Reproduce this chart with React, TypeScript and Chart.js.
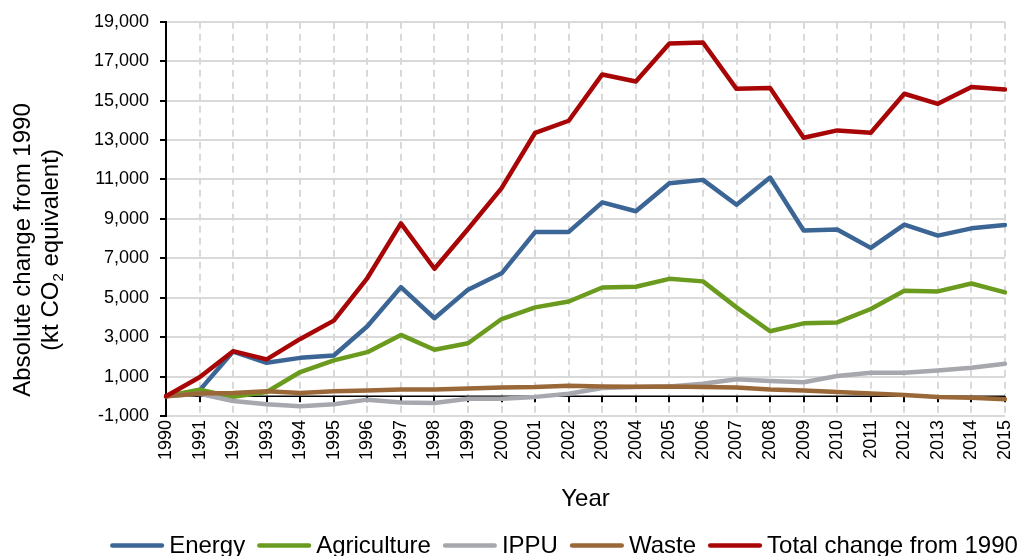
import React, { useEffect, useRef } from "react";
import { Chart, registerables } from "chart.js";

Chart.register(...registerables);

const years = [
  "1990", "1991", "1992", "1993", "1994", "1995", "1996", "1997", "1998", "1999",
  "2000", "2001", "2002", "2003", "2004", "2005", "2006", "2007", "2008", "2009",
  "2010", "2011", "2012", "2013", "2014", "2015",
];

const energy = [0, 300, 2270, 1700, 1950, 2070, 3550, 5540, 3960, 5410, 6240, 8330, 8340, 9840, 9390, 10810, 10980, 9720, 11100, 8410, 8460, 7530, 8710, 8150, 8520, 8690];
const agriculture = [0, 340, -30, 220, 1230, 1820, 2240, 3115, 2360, 2690, 3920, 4510, 4810, 5520, 5560, 5960, 5830, 4510, 3300, 3700, 3750, 4430, 5350, 5320, 5720, 5270];
const ippu = [0, 130, -240, -400, -500, -400, -170, -320, -340, -120, -120, -30, 130, 420, 470, 500, 640, 860, 770, 710, 1030, 1200, 1200, 1310, 1450, 1650];
const waste = [0, 140, 170, 250, 170, 250, 300, 340, 350, 390, 440, 470, 540, 500, 490, 500, 470, 440, 350, 300, 220, 140, 70, -30, -70, -150];
const total = [0, 970, 2290, 1870, 2910, 3840, 6000, 8770, 6470, 8490, 10560, 13370, 13980, 16330, 15970, 17900, 17950, 15600, 15640, 13120, 13490, 13370, 15350, 14840, 15690, 15560];

const seriesNames = ["Energy", "Agriculture", "IPPU", "Waste", "Total change from 1990"];
const seriesColors = ["#3B6595", "#6B9B1E", "#A6A8AE", "#9A6838", "#A80606"];

const yMin = -1000;
const yMax = 19000;

const FONT = "'Liberation Sans', Arial, sans-serif";

const zeroAxisPlugin = {
  id: "zeroAxis",
  beforeDatasetsDraw(chart: any) {
    const { ctx, scales } = chart;
    const xs = scales.x;
    const ys = scales.y;
    const y0 = ys.getPixelForValue(0);
    ctx.save();
    ctx.strokeStyle = "#000";
    ctx.lineWidth = 1.5;
    ctx.beginPath();
    ctx.moveTo(chart.chartArea.left, y0);
    ctx.lineTo(chart.chartArea.right, y0);
    ctx.stroke();
    ctx.lineWidth = 2;
    for (let i = 0; i < years.length; i++) {
      const x = Math.round(xs.getPixelForValue(i));
      ctx.beginPath();
      ctx.moveTo(x, y0);
      ctx.lineTo(x, y0 + 6);
      ctx.stroke();
    }
    ctx.restore();
  },
};

const textPlugin = {
  id: "textDecor",
  afterDraw(chart: any) {
    const { ctx } = chart;
    ctx.save();
    ctx.fillStyle = "#000";
    // Y axis title (rotated, two lines)
    const cy = 250;
    ctx.font = `24px ${FONT}`;
    ctx.textBaseline = "alphabetic";
    ctx.save();
    ctx.translate(29.5, cy);
    ctx.rotate(-Math.PI / 2);
    ctx.textAlign = "center";
    ctx.fillText("Absolute change from 1990", 0, 0);
    ctx.restore();

    const seg1 = "(kt CO";
    const seg2 = "2";
    const seg3 = " equivalent)";
    ctx.font = `24px ${FONT}`;
    const w1 = ctx.measureText(seg1).width;
    const w3 = ctx.measureText(seg3).width;
    ctx.font = `15px ${FONT}`;
    const w2 = ctx.measureText(seg2).width;
    const tw = w1 + w2 + w3;
    ctx.save();
    ctx.translate(57.5, cy);
    ctx.rotate(-Math.PI / 2);
    ctx.textAlign = "left";
    ctx.font = `24px ${FONT}`;
    ctx.fillText(seg1, -tw / 2, 0);
    ctx.font = `15px ${FONT}`;
    ctx.fillText(seg2, -tw / 2 + w1, 5);
    ctx.font = `24px ${FONT}`;
    ctx.fillText(seg3, -tw / 2 + w1 + w2, 0);
    ctx.restore();

    // Legend
    const lineLen = 54;
    const gapText = 5;
    const gapItem = 12;
    ctx.font = `24px ${FONT}`;
    const widths = seriesNames.map((n) => ctx.measureText(n).width);
    let totalW = 0;
    widths.forEach((w, i) => {
      totalW += lineLen + gapText + w + (i < widths.length - 1 ? gapItem : 0);
    });
    let x = 564 - totalW / 2;
    const ly = 545.5;
    chart.data.datasets.forEach((ds: any, i: number) => {
      ctx.strokeStyle = ds.borderColor;
      ctx.lineWidth = 4.5;
      ctx.lineCap = "round";
      ctx.beginPath();
      ctx.moveTo(x + 2.2, ly);
      ctx.lineTo(x + lineLen - 2.2, ly);
      ctx.stroke();
      ctx.fillStyle = "#000";
      ctx.textAlign = "left";
      ctx.textBaseline = "alphabetic";
      ctx.fillText(ds.label, x + lineLen + gapText, 552.5);
      x += lineLen + gapText + widths[i] + gapItem;
    });
    ctx.restore();
  },
};

export default function App() {
  const canvasRef = useRef<HTMLCanvasElement | null>(null);

  useEffect(() => {
    if (!canvasRef.current) return;
    const seriesData = [energy, agriculture, ippu, waste, total];
    const chart = new Chart(canvasRef.current, {
      type: "line",
      data: {
        labels: years,
        datasets: seriesData.map((d, i) => ({
          label: seriesNames[i],
          data: d,
          borderColor: seriesColors[i],
          backgroundColor: seriesColors[i],
          borderWidth: 4.5,
          pointRadius: 0,
          pointHoverRadius: 0,
          tension: 0,
          fill: false,
          borderJoinStyle: "round" as const,
          borderCapStyle: "round" as const,
          order: seriesData.length - i,
        })),
      },
      options: {
        animation: false,
        responsive: true,
        maintainAspectRatio: false,
        devicePixelRatio: 1,
        layout: { padding: { top: 20, right: 13, bottom: 0, left: 0 } },
        plugins: {
          legend: { display: false },
          tooltip: { enabled: false },
          title: { display: false },
        },
        scales: {
          x: {
            type: "category",
            offset: false,
            grid: {
              display: true,
              color: "#D9D9D9",
              lineWidth: 2,
              drawTicks: false,
            },
            border: { display: false, dash: [7, 5] },
            ticks: {
              autoSkip: false,
              minRotation: 90,
              maxRotation: 90,
              padding: 4,
              color: "#000",
              font: { family: FONT, size: 18 },
            },
            title: {
              display: true,
              text: "Year",
              color: "#000",
              font: { family: FONT, size: 24 },
              padding: { top: 0, bottom: 42.6 },
            },
            afterFit: (scale: any) => {
              scale.height = 140;
              scale.paddingRight = 0;
              scale.paddingLeft = 0;
            },
          },
          y: {
            type: "linear",
            min: yMin,
            max: yMax,
            ticks: {
              stepSize: 1000,
              padding: 11,
              color: "#000",
              font: { family: FONT, size: 18 },
              callback: (v: any) => {
                const n = Number(v);
                if (Math.abs(n) % 2000 === 0) return "";
                return n.toLocaleString("en-US");
              },
            },
            grid: {
              color: (ctx: any) => {
                const v = ctx.tick ? ctx.tick.value : null;
                if (v === null) return "transparent";
                if (v === 0) return "transparent";
                return Math.abs(v) % 2000 === 0 ? "transparent" : "#D9D9D9";
              },
              lineWidth: 2,
              drawTicks: true,
              tickLength: 6,
              tickWidth: 2,
              tickColor: (ctx: any) => {
                const v = ctx.tick ? ctx.tick.value : null;
                if (v === null) return "transparent";
                return Math.abs(v) % 2000 === 0 ? "transparent" : "#000";
              },
            },
            border: { display: true, color: "#000", width: 2 },
            afterFit: (scale: any) => {
              scale.width = 166;
            },
          },
        },
      },
      plugins: [zeroAxisPlugin, textPlugin],
    });
    return () => chart.destroy();
  }, []);

  return (
    <div style={{ position: "fixed", left: 0, top: 0, width: 1018, height: 556, background: "#fff" }}>
      <canvas ref={canvasRef} />
    </div>
  );
}
